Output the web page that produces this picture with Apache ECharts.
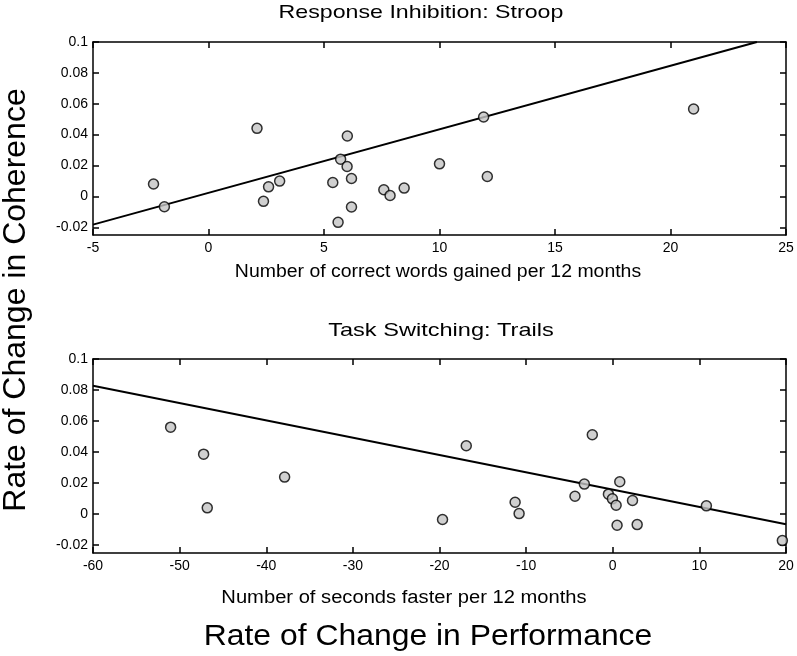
<!DOCTYPE html>
<html><head><meta charset="utf-8">
<script src="https://cdn.jsdelivr.net/npm/echarts@6/dist/echarts.min.js"></script>
<style>html,body{margin:0;padding:0;background:#fff}#c{width:797px;height:656px}</style>
</head><body><div id="c"></div>
<script>
// Top panel: Stroop
const stroopX = [-2.38,-1.91,2.10,2.38,2.60,3.08,5.38,5.61,5.72,6.01,6.00,6.19,6.19,7.59,7.86,8.47,10.0,11.91,12.07,21.0];
const stroopY = [0.0080,-0.0067,0.0441,-0.0032,0.0062,0.0099,0.0090,-0.0168,0.0241,0.0391,0.0194,0.0116,-0.0069,0.0043,0.0006,0.0054,0.0211,0.0514,0.0129,0.0566];
const stroopFitX = [-5, 23.74];
const stroopFitY = [-0.0183, 0.1];
// Bottom panel: Trails
const trailsX = [-51.04,-47.23,-46.81,-37.88,-19.65,-16.91,-11.27,-10.81,-4.36,-3.28,-2.36,-0.50,-0.04,0.39,0.50,0.81,2.28,2.82,10.81,19.58];
const trailsY = [0.0561,0.0387,0.0041,0.0239,-0.0034,0.0441,0.0077,0.0004,0.0116,0.0194,0.0512,0.0129,0.0099,0.0058,-0.0071,0.0209,0.0088,-0.0067,0.0054,-0.0170];
const trailsFitX = [-60, 20];
const trailsFitY = [0.0828, -0.0065];
const stroopTicks = [-5,0,5,10,15,20,25];
const trailsTicks = [-60,-50,-40,-30,-20,-10,0,10,20];
const yTicks = [-0.02,0,0.02,0.04,0.06,0.08,0.1];

const zip = (a,b)=>a.map((v,i)=>[v,b[i]]);
const FONT = 'Liberation Sans, Arial, Helvetica, sans-serif';
const axisLine = {show:true, onZero:false, lineStyle:{color:'#000', width:1.5}};
function xAx(gi, min, max, pos, labels){
  return {type:'value', gridIndex:gi, min, max, interval: (max-min)/((gi===0?stroopTicks:trailsTicks).length-1), position:pos,
    axisLine, axisTick:{show:true, inside:true, length:6, lineStyle:{color:'#000', width:1.5}},
    axisLabel:{show:labels, color:'#000', fontSize:14, fontFamily:FONT, margin:6,
      formatter:v=>String(Math.round(v))},
    splitLine:{show:false}};
}
function yAx(gi, pos, labels){
  return {type:'value', gridIndex:gi, min:-0.025, max:0.1, position:pos,
    axisLine, axisTick:{show:true, inside:true, length:6, lineStyle:{color:'#000', width:1.5},
      customValues: yTicks},
    axisLabel:{show:labels, color:'#000', fontSize:14, fontFamily:FONT, margin:5,
      customValues: yTicks, formatter:v=>{const r=Math.round(v*100)/100; return r===0?'0':String(r);} },
    splitLine:{show:false}};
}
function txt(text, x, y, size, sx){
  return {type:'text', x, y, scaleX:sx, style:{text, x:0, y:0, fill:'#000', font:size+'px '+FONT, textAlign:'center', textVerticalAlign:'middle'}};
}
const chart = echarts.init(document.getElementById('c'), null, {renderer:'canvas'});
const scatterStyle = {color:'#c4c4c4', borderColor:'#000', borderWidth:1.5};
chart.setOption({
  animation:false,
  backgroundColor:'#fff',
  grid:[
    {left:93, top:42, width:693, height:193},
    {left:93, top:359, width:693, height:194}
  ],
  xAxis:[
    xAx(0,-5,25,'bottom',true), xAx(0,-5,25,'top',false),
    xAx(1,-60,20,'bottom',true), xAx(1,-60,20,'top',false)
  ],
  yAxis:[
    yAx(0,'left',true), yAx(0,'right',false),
    yAx(1,'left',true), yAx(1,'right',false)
  ],
  series:[
    {type:'line', xAxisIndex:0, yAxisIndex:0, data:zip(stroopFitX,stroopFitY), showSymbol:false, symbol:'none',
      lineStyle:{color:'#000', width:2}, z:2},
    {type:'scatter', xAxisIndex:0, yAxisIndex:0, data:zip(stroopX,stroopY), symbol:'circle', symbolSize:10, itemStyle:scatterStyle, z:3},
    {type:'line', xAxisIndex:2, yAxisIndex:2, data:zip(trailsFitX,trailsFitY), showSymbol:false, symbol:'none',
      lineStyle:{color:'#000', width:2}, z:2},
    {type:'scatter', xAxisIndex:2, yAxisIndex:2, data:zip(trailsX,trailsY), symbol:'circle', symbolSize:10, itemStyle:scatterStyle, z:3}
  ],
  graphic:[
    txt('Response Inhibition: Stroop', 421, 13, 19, 1.22),
    txt('Number of correct words gained per 12 months', 438, 272, 18, 1.08),
    txt('Task Switching: Trails', 441, 331, 19, 1.24),
    txt('Number of seconds faster per 12 months', 404, 598, 18, 1.12),
    txt('Rate of Change in Performance', 428, 637, 29, 1.1),
    {type:'text', x:16, y:300, rotation:Math.PI/2, style:{text:'Rate of Change in Coherence', x:0, y:0, fill:'#000', font:'32px '+FONT, textAlign:'center', textVerticalAlign:'middle'}}
  ]
});
</script></body></html>
